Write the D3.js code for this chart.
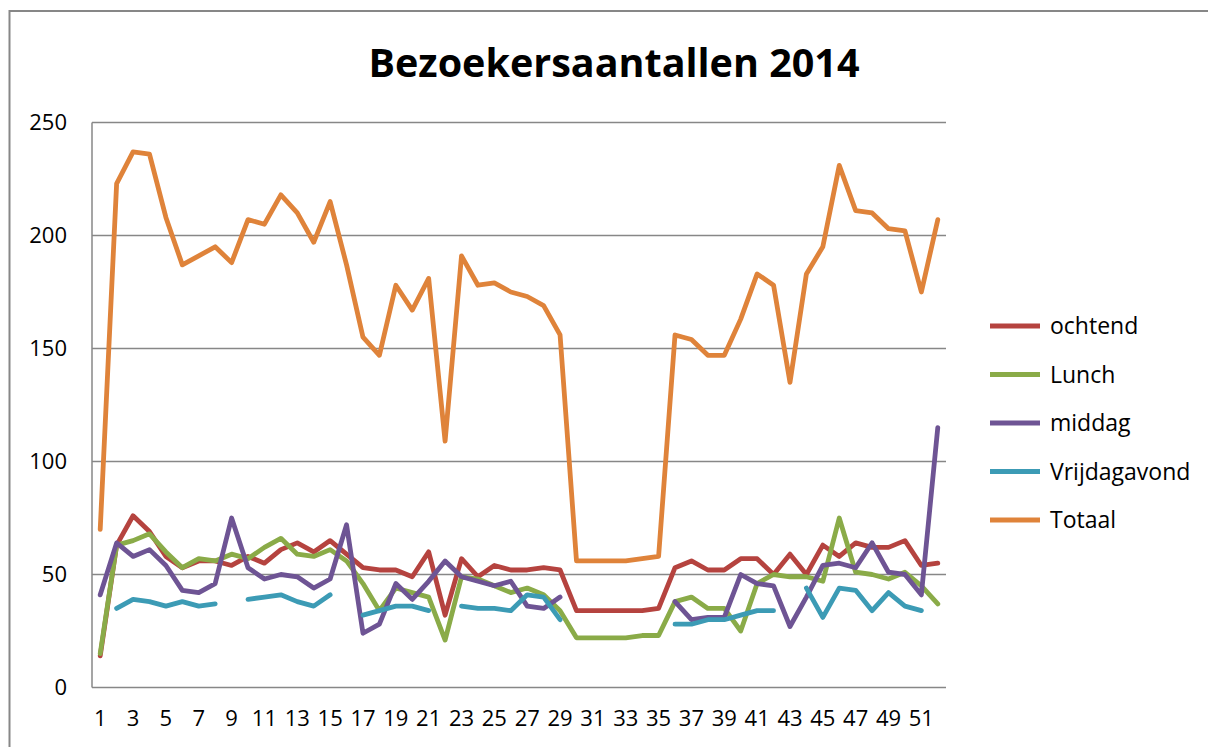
<!DOCTYPE html>
<html>
<head>
<meta charset="utf-8">
<script src="https://cdn.jsdelivr.net/npm/d3@7"></script>
<style>
  html, body { margin: 0; padding: 0; background: #ffffff; }
  #graphics { width: 1208px; height: 747px; }
</style>
</head>
<body>
<div id="graphics"></div>
<script>
// Week numbers
let weeks = [1, 2, 3, 4, 5, 6, 7, 8, 9, 10, 11, 12, 13, 14, 15, 16, 17, 18, 19, 20, 21, 22, 23, 24, 25, 26,
  27, 28, 29, 30, 31, 32, 33, 34, 35, 36, 37, 38, 39, 40, 41, 42, 43, 44, 45, 46, 47, 48, 49, 50, 51, 52];

let ochtend = [14, 63, 76, 69, 58, 53, 56, 56, 54, 58, 55, 61, 64, 60, 65, 59, 53, 52, 52, 49, 60, 32, 57, 49, 54, 52,
  52, 53, 52, 34, 34, 34, 34, 34, 35, 53, 56, 52, 52, 57, 57, 50, 59, 50, 63, 58, 64, 62, 62, 65, 54, 55];

let lunch = [15, 63, 65, 68, 60, 53, 57, 56, 59, 57, 62, 66, 59, 58, 61, 56, 46, 34, 44, 42, 40, 21, 49, 48, 45, 42,
  44, 41, 34, 22, 22, 22, 22, 23, 23, 38, 40, 35, 35, 25, 46, 50, 49, 49, 47, 75, 51, 50, 48, 51, 45, 37];

let middag = [41, 64, 58, 61, 54, 43, 42, 46, 75, 53, 48, 50, 49, 44, 48, 72, 24, 28, 46, 39, 47, 56, 49, 47, 45, 47,
  36, 35, 40, null, null, null, null, null, null, 38, 30, 31, 31, 50, 46, 45, 27, 40, 54, 55, 53, 64, 51, 50, 41, 115];

let vrijdagavond = [null, 35, 39, 38, 36, 38, 36, 37, null, 39, 40, 41, 38, 36, 41, null, 32, 34, 36, 36, 34, null, 36, 35, 35, 34,
  41, 40, 30, null, null, null, null, null, null, 28, 28, 30, 30, 32, 34, 34, null, 44, 31, 44, 43, 34, 42, 36, 34, null];

let totaal = [70, 223, 237, 236, 208, 187, 191, 195, 188, 207, 205, 218, 210, 197, 215, 187, 155, 147, 178, 167, 181, 109, 191, 178, 179, 175,
  173, 169, 156, 56, 56, 56, 56, 57, 58, 156, 154, 147, 147, 163, 183, 178, 135, 183, 195, 231, 211, 210, 203, 202, 175, 207];

let yTicks = [0, 50, 100, 150, 200, 250];

let seriesNames = ["ochtend", "Lunch", "middag", "Vrijdagavond", "Totaal"];
let seriesColors = ["#B5433F", "#8AAB48", "#6E5494", "#3C9BB5", "#DF833A"];
let seriesValues = [ochtend, lunch, middag, vrijdagavond, totaal];

const width = 1208;
const height = 747;
const plot = { left: 92, right: 946, top: 122.5, bottom: 687.5 };
const gridColor = "#878787";
const font = "'Open Sans', 'Liberation Sans', sans-serif";

let svg = d3.select("#graphics")
  .append("svg")
  .attr("width", width)
  .attr("height", height)
  .style("display", "block")
  .style("background-color", "#ffffff");

// chart frame (runs off the right and bottom edge)
svg.append("rect")
  .attr("x", 9.5)
  .attr("y", 11)
  .attr("width", width + 20)
  .attr("height", height + 20)
  .attr("fill", "none")
  .attr("stroke", gridColor)
  .attr("stroke-width", 2);

let x = d3.scaleBand()
  .domain(weeks)
  .range([plot.left, plot.right])
  .padding(0);

let y = d3.scaleLinear()
  .domain([0, 250])
  .range([plot.bottom, plot.top]);

const cx = (w) => x(w) + x.bandwidth() / 2;

// gridlines
svg.append("g")
  .selectAll("line")
  .data(yTicks.filter(t => t > 0))
  .enter()
  .append("line")
  .attr("x1", plot.left)
  .attr("x2", plot.right)
  .attr("y1", d => y(d))
  .attr("y2", d => y(d))
  .attr("stroke", gridColor)
  .attr("stroke-width", 1.5);

// axis lines
svg.append("line")
  .attr("x1", plot.left).attr("x2", plot.left)
  .attr("y1", plot.top).attr("y2", plot.bottom)
  .attr("stroke", gridColor).attr("stroke-width", 1.5);
svg.append("line")
  .attr("x1", plot.left).attr("x2", plot.right)
  .attr("y1", plot.bottom).attr("y2", plot.bottom)
  .attr("stroke", gridColor).attr("stroke-width", 1.5);

// y labels
let yAxis = d3.axisLeft(y).tickValues(yTicks).tickSize(0).tickPadding(25);
let gy = svg.append("g")
  .attr("transform", "translate(" + plot.left + ",0)")
  .call(yAxis);
gy.select(".domain").remove();
gy.selectAll("text")
  .attr("font-family", font)
  .attr("font-size", 22)
  .attr("fill", "#000");

// x labels, every other week
let xAxis = d3.axisBottom(x).tickValues(weeks.filter(w => w % 2 === 1)).tickSize(0).tickPadding(23);
let gx = svg.append("g")
  .attr("transform", "translate(0," + plot.bottom + ")")
  .call(xAxis);
gx.select(".domain").remove();
gx.selectAll("text")
  .attr("font-family", font)
  .attr("font-size", 22)
  .attr("fill", "#000");

// series lines
let line = d3.line()
  .defined(d => d.v !== null)
  .x(d => cx(d.w))
  .y(d => y(d.v));

seriesValues.forEach(function (vals, i) {
  let pts = weeks.map((w, j) => ({ w: w, v: vals[j] }));
  svg.append("path")
    .datum(pts)
    .attr("d", line)
    .attr("fill", "none")
    .attr("stroke", seriesColors[i])
    .attr("stroke-width", 4.8)
    .attr("stroke-linejoin", "round")
    .attr("stroke-linecap", "round");
});

// title
svg.append("text")
  .attr("x", 614)
  .attr("y", 77)
  .attr("text-anchor", "middle")
  .attr("font-family", font)
  .attr("font-weight", "bold")
  .attr("font-size", 39.5)
  .attr("fill", "#000")
  .text("Bezoekersaantallen 2014");

// legend
let legend = svg.append("g")
  .selectAll("g")
  .data(seriesNames)
  .enter()
  .append("g")
  .attr("transform", (d, i) => "translate(990," + (326 + i * 48.5) + ")");

legend.append("line")
  .attr("x1", 0)
  .attr("x2", 50)
  .attr("stroke", (d, i) => seriesColors[i])
  .attr("stroke-width", 4.8);

legend.append("text")
  .attr("x", 60)
  .attr("dy", "0.35em")
  .attr("font-family", font)
  .attr("font-size", 23)
  .attr("fill", "#000")
  .text(d => d);
</script>
</body>
</html>
